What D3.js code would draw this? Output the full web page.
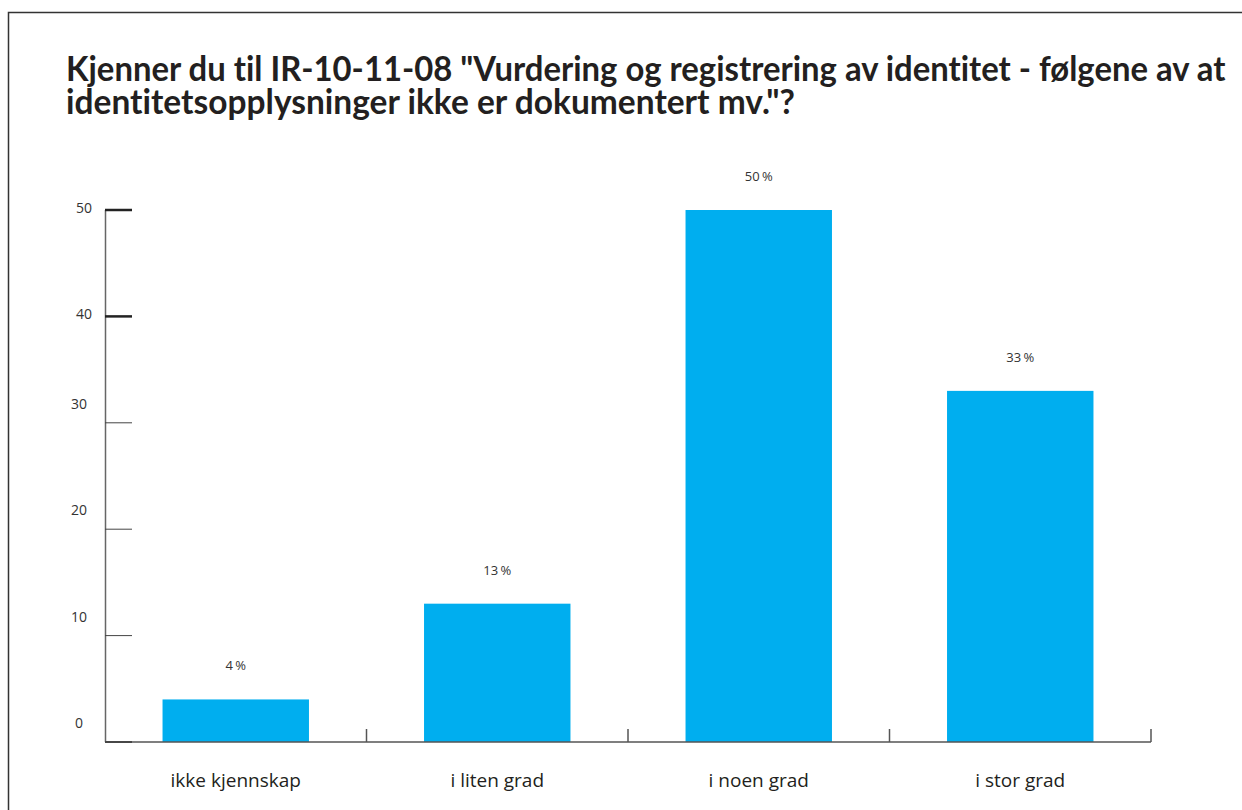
<!DOCTYPE html>
<html>
<head>
<meta charset="utf-8">
<script src="https://cdn.jsdelivr.net/npm/d3@7"></script>
<style>
  body { margin: 0; background: #fff; }
  svg { display: block; }
  text { font-variant-ligatures: none; font-feature-settings: "liga" 0, "dlig" 0; }
</style>
</head>
<body>
<svg id="chart" width="1242" height="810"></svg>
<script>
// data
var categories = ["ikke kjennskap", "i liten grad", "i noen grad", "i stor grad"];
var values = [4, 13, 50, 33];
var yTicks = [0, 10, 20, 30, 40, 50];
var majorTicks = [40, 50];
var titleLines = [
    "Kjenner du til IR-10-11-08 \"Vurdering og registrering av identitet - følgene av at",
    "identitetsopplysninger ikke er dokumentert mv.\"?"
];

var svg = d3.select("#chart");
var ink = "#231f20";

// frame
svg.append("path")
    .attr("d", "M8.5,810 V12.5 H1242")
    .attr("fill", "none")
    .attr("stroke", "#333")
    .attr("stroke-width", 1.5);

// title - original face is condensed, so squeeze horizontally to its width
var titleWidths = [1160, 729];
svg.selectAll("text.title")
    .data(titleLines)
    .enter()
    .append("text")
    .attr("class", "title")
    .style("font-family", "Lato, 'Open Sans', sans-serif")
    .style("font-weight", "bold")
    .style("font-size", "34px")
    .style("fill", ink)
    .text(function(d){ return d; })
    .attr("transform", function(d, i){
        var w = this.getComputedTextLength();
        return "translate(66," + (81 + i * 33) + ") scale(" + (titleWidths[i] / w) + ",1)";
    });

// scales
var x = d3.scaleBand()
    .domain(categories)
    .range([105, 1151])
    .paddingInner(0.44)
    .paddingOuter(0.22);
var step = x.step();

var y = d3.scaleLinear()
    .domain([0, 50])
    .range([742, 210]);

var font = "'Open Sans', sans-serif";

// bars
svg.selectAll("rect.bar")
    .data(values)
    .enter()
    .append("rect")
    .attr("class", "bar")
    .attr("x", function(d, i){ return x(categories[i]); })
    .attr("y", function(d){ return y(d); })
    .attr("width", x.bandwidth())
    .attr("height", function(d){ return y(0) - y(d); })
    .attr("fill", "#00aeef");

// value labels
svg.selectAll("text.val")
    .data(values)
    .enter()
    .append("text")
    .attr("class", "val")
    .attr("x", function(d, i){ return x(categories[i]) + x.bandwidth() / 2; })
    .attr("y", function(d){ return y(d) - 29; })
    .attr("text-anchor", "middle")
    .style("font-family", font)
    .style("font-size", "13px")
    .style("fill", "#333")
    .text(function(d){ return d + "\u2009%"; });

// y axis line
svg.append("line")
    .attr("x1", 105.5).attr("x2", 105.5)
    .attr("y1", y(50)).attr("y2", y(0))
    .attr("stroke", "#666")
    .attr("stroke-width", 1.5);

// y ticks
svg.selectAll("line.ytick")
    .data(yTicks)
    .enter()
    .append("line")
    .attr("class", "ytick")
    .attr("x1", 105).attr("x2", 132)
    .attr("y1", function(d){ return y(d); })
    .attr("y2", function(d){ return y(d); })
    .attr("stroke", function(d){ return majorTicks.indexOf(d) >= 0 || d === 0 ? "#222" : "#444"; })
    .attr("stroke-width", function(d){ return majorTicks.indexOf(d) >= 0 ? 2.5 : (d === 0 ? 2 : 1); });

svg.selectAll("text.ylab")
    .data(yTicks)
    .enter()
    .append("text")
    .attr("class", "ylab")
    .attr("x", function(d){ return majorTicks.indexOf(d) >= 0 ? 84 : 79; })
    .attr("y", function(d){ return majorTicks.indexOf(d) >= 0 ? y(d) + 3 : y(d) - 14; })
    .attr("text-anchor", "middle")
    .style("font-family", font)
    .style("font-size", "14px")
    .style("fill", "#333")
    .text(function(d){ return d; });

// x axis
svg.append("line")
    .attr("x1", 105).attr("x2", 1151)
    .attr("y1", y(0)).attr("y2", y(0))
    .attr("stroke", "#555")
    .attr("stroke-width", 1.5);

svg.selectAll("line.xtick")
    .data(categories)
    .enter()
    .append("line")
    .attr("class", "xtick")
    .attr("x1", function(d){ return x(d) - step * 0.22 + step; })
    .attr("x2", function(d){ return x(d) - step * 0.22 + step; })
    .attr("y1", y(0)).attr("y2", y(0) - 13)
    .attr("stroke", "#555")
    .attr("stroke-width", 1.5);

svg.selectAll("text.xlab")
    .data(categories)
    .enter()
    .append("text")
    .attr("class", "xlab")
    .attr("x", function(d){ return x(d) + x.bandwidth() / 2; })
    .attr("y", 787)
    .attr("text-anchor", "middle")
    .style("font-family", font)
    .style("font-size", "19px")
    .style("fill", ink)
    .text(function(d){ return d; });
</script>
</body>
</html>
